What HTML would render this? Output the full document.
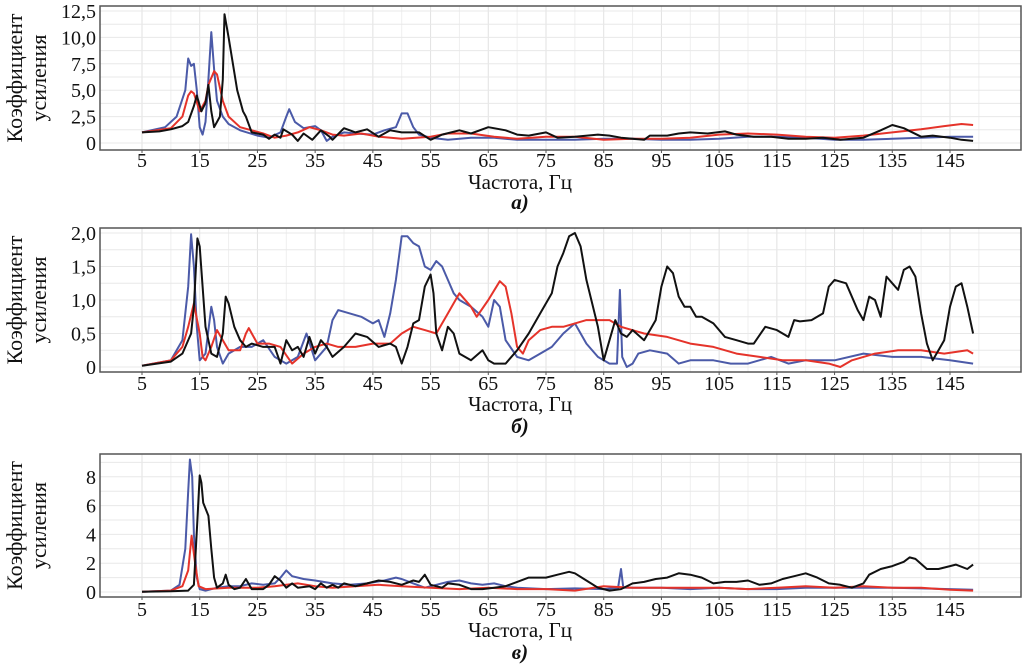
<!DOCTYPE html>
<html><head><meta charset="utf-8"><style>
body{margin:0;background:#fff;}
svg{display:block;font-family:"Liberation Serif",serif;}
</style></head><body>
<svg id="chart" width="1034" height="668" viewBox="0 0 1034 668" xmlns="http://www.w3.org/2000/svg"></svg>
<script>
const xTicks=[5,15,25,35,45,55,65,75,85,95,105,115,125,135,145];
const aTicks=[0,2.5,5,7.5,10,12.5];
const aTickLabels=["0","2,5","5,0","7,5","10,0","12,5"];
const bTicks=[0,0.5,1,1.5,2];
const bTickLabels=["0","0,5","1,0","1,5","2,0"];
const cTicks=[0,2,4,6,8];
const cTickLabels=["0","2","4","6","8"];

const aBlack=[[5,1],[8,1.1],[10,1.3],[12,1.6],[13,2],[14,3.5],[14.5,4.5],[15.3,3],[16,3.8],[16.5,5.5],[17,3],[17.5,1.5],[18.5,2.5],[19,6],[19.3,12.2],[20,10],[21.5,5],[22.5,3],[23,2.5],[24,1],[26,0.8],[27,0.4],[28,0.8],[29,0.5],[29.5,1.3],[31,0.8],[32,0.2],[33,0.9],[34.5,0.3],[36,1.2],[37.5,0.6],[38,0.3],[40,1.4],[42,1.0],[44,1.3],[46,0.6],[48,1.2],[50,1.0],[53,1.0],[55,0.3],[57,0.8],[60,1.2],[62,0.9],[65,1.5],[68,1.2],[70,0.8],[72,0.7],[75,1.0],[77,0.5],[80,0.6],[84,0.8],[86,0.7],[88,0.5],[90,0.4],[92,0.3],[93,0.7],[96,0.7],[98,0.9],[100,1.0],[103,0.9],[106,1.1],[108,0.8],[111,0.6],[114,0.6],[117,0.4],[120,0.4],[123,0.5],[126,0.3],[130,0.5],[133,1.2],[135,1.7],[137,1.4],[140,0.6],[142,0.7],[145,0.5],[147,0.3],[149,0.2]];
const aBlue=[[5,1],[9,1.5],[11,2.5],[12.5,5],[13,8],[13.5,7.3],[14,7.5],[14.5,5],[15,1.5],[15.5,0.8],[16,2],[16.5,6],[17,10.5],[17.5,7],[18,4],[19,2.5],[20,1.8],[22,1.2],[25,0.7],[27,0.5],[29,1.0],[30,2.5],[30.5,3.2],[31.5,2.0],[33,1.4],[35,1.6],[36,1.2],[37,0.2],[38,0.6],[40,1.0],[42,0.9],[45,0.8],[47,1.2],[49,1.5],[50,2.8],[51,2.8],[52,1.5],[53,0.8],[55,0.5],[58,0.3],[62,0.5],[66,0.5],[70,0.3],[75,0.3],[80,0.3],[85,0.4],[90,0.4],[95,0.3],[100,0.3],[105,0.4],[110,0.6],[115,0.6],[120,0.5],[125,0.3],[130,0.3],[135,0.4],[140,0.5],[145,0.6],[149,0.6]];
const aRed=[[5,1],[10,1.4],[12,2.5],[13,4.5],[13.5,4.9],[14,4.7],[15,3],[16,4],[16.5,5.5],[17.5,6.8],[18,6.5],[19,4],[20,2.5],[22,1.5],[24,1.2],[26,0.9],[28,0.5],[30,0.7],[32,1.0],[34,1.5],[36,1.2],[38,0.8],[40,0.7],[43,0.9],[46,0.6],[50,0.4],[55,0.6],[58,0.9],[62,0.9],[66,0.6],[70,0.4],[75,0.6],[80,0.6],[85,0.3],[90,0.4],[95,0.4],[100,0.5],[105,0.8],[110,0.9],[115,0.8],[120,0.6],[125,0.5],[130,0.7],[135,1.0],[140,1.3],[144,1.6],[147,1.8],[149,1.7]];

const bBlack=[[5,0.02],[10,0.08],[12,0.2],[13.5,0.5],[14,0.9],[14.6,1.92],[15,1.8],[15.5,1.2],[16,0.6],[17,0.2],[18,0.15],[19,0.5],[19.5,1.05],[20,0.95],[21,0.6],[22,0.4],[23,0.3],[24,0.35],[26,0.3],[28,0.3],[29,0.05],[30,0.4],[31,0.25],[32,0.3],[33,0.15],[34,0.45],[35,0.2],[36,0.4],[37,0.3],[38,0.15],[40,0.3],[42,0.5],[44,0.45],[46,0.3],[48,0.35],[49,0.3],[50,0.05],[51,0.3],[52,0.65],[53,0.7],[54,1.2],[55,1.38],[55.5,1.1],[56,0.5],[57,0.25],[58,0.6],[59,0.5],[60,0.2],[62,0.1],[64,0.25],[65,0.1],[66,0.05],[68,0.05],[70,0.25],[72,0.5],[74,0.8],[76,1.1],[77,1.5],[78,1.7],[79,1.95],[80,2.0],[81,1.8],[82,1.3],[84,0.6],[85,0.1],[86,0.4],[87,0.7],[88,0.5],[89,0.45],[90,0.55],[92,0.4],[94,0.7],[95,1.2],[96,1.5],[97,1.4],[98,1.05],[99,0.9],[100,0.9],[101,0.75],[102,0.75],[104,0.65],[106,0.45],[108,0.4],[110,0.35],[111,0.35],[113,0.6],[115,0.55],[117,0.45],[118,0.7],[119,0.68],[121,0.7],[123,0.8],[124,1.2],[125,1.3],[127,1.25],[129,0.85],[130,0.7],[131,1.05],[132,1.0],[133,0.75],[134,1.35],[135,1.25],[136,1.15],[137,1.45],[138,1.5],[139,1.35],[140,0.8],[141,0.35],[142,0.1],[143,0.25],[144,0.4],[145,0.9],[146,1.2],[147,1.25],[148,0.9],[149,0.5]];
const bBlue=[[5,0.02],[10,0.1],[12,0.4],[13,1.2],[13.5,1.98],[14,1.5],[14.5,0.6],[15,0.1],[16,0.2],[17,0.9],[17.5,0.7],[18,0.3],[19,0.05],[20,0.2],[22,0.3],[24,0.3],[26,0.4],[28,0.15],[30,0.05],[32,0.15],[33.5,0.5],[35,0.1],[37,0.3],[38,0.7],[39,0.85],[41,0.8],[43,0.75],[45,0.65],[46,0.7],[47,0.45],[48,0.8],[49,1.3],[50,1.95],[51,1.95],[52,1.85],[53,1.8],[54,1.5],[55,1.45],[56,1.58],[57,1.5],[58,1.3],[59,1.1],[60,1.0],[62,0.9],[64,0.75],[65,0.6],[66,1.0],[67,0.9],[68,0.4],[70,0.15],[72,0.1],[74,0.2],[76,0.3],[78,0.5],[80,0.65],[82,0.35],[84,0.15],[86,0.05],[87.3,0.05],[87.8,1.15],[88.2,0.15],[89,0.0],[90,0.05],[91,0.2],[93,0.25],[96,0.2],[98,0.05],[100,0.1],[104,0.1],[107,0.05],[110,0.05],[114,0.15],[117,0.05],[120,0.1],[125,0.1],[130,0.2],[135,0.15],[140,0.15],[145,0.1],[149,0.05]];
const bRed=[[5,0.02],[10,0.1],[12,0.3],[13,0.6],[14,0.95],[15,0.5],[15.5,0.15],[16,0.1],[17,0.3],[18,0.55],[19,0.4],[20,0.25],[22,0.25],[23,0.5],[23.5,0.58],[25,0.35],[27,0.35],[29,0.3],[31,0.05],[33,0.2],[35,0.3],[37,0.35],[39,0.3],[42,0.3],[45,0.35],[48,0.35],[50,0.5],[52,0.6],[54,0.55],[56,0.5],[58,0.8],[60,1.1],[62,0.9],[63,0.75],[65,1.0],[67,1.28],[68,1.2],[69,0.8],[70,0.3],[71,0.2],[72,0.4],[74,0.55],[76,0.6],[78,0.6],[80,0.65],[82,0.7],[84,0.7],[86,0.7],[88,0.6],[92,0.5],[96,0.45],[100,0.35],[104,0.3],[108,0.2],[112,0.15],[116,0.1],[120,0.1],[124,0.05],[126,0.0],[128,0.1],[132,0.2],[136,0.25],[140,0.25],[144,0.2],[148,0.25],[149,0.2]];

const cBlack=[[5,0.02],[10,0.05],[13,0.1],[14,0.5],[14.6,5],[15,8.1],[15.3,7.6],[15.6,6.2],[16,5.8],[16.5,5.3],[17,3],[17.5,1],[18,0.3],[19,0.6],[19.5,1.2],[20,0.5],[21,0.2],[22,0.3],[23,0.9],[24,0.2],[26,0.2],[27,0.5],[28,1.1],[29,0.8],[30,0.3],[31,0.6],[32,0.3],[34,0.4],[35,0.2],[36,0.6],[37,0.3],[38,0.5],[39,0.3],[40,0.6],[42,0.4],[44,0.6],[46,0.8],[48,0.7],[50,0.5],[52,0.8],[53,0.7],[54,1.2],[55,0.5],[57,0.3],[58,0.6],[60,0.5],[62,0.2],[64,0.2],[66,0.3],[68,0.4],[70,0.7],[72,1.0],[75,1.0],[77,1.2],[79,1.4],[80,1.3],[82,0.8],[84,0.3],[86,0.1],[88,0.2],[90,0.6],[92,0.7],[94,0.9],[96,1.0],[98,1.3],[100,1.2],[102,1.0],[104,0.6],[106,0.7],[108,0.7],[110,0.8],[112,0.5],[114,0.6],[116,0.9],[118,1.1],[120,1.3],[122,1.0],[124,0.6],[126,0.5],[128,0.3],[130,0.6],[131,1.2],[133,1.6],[135,1.8],[137,2.1],[138,2.4],[139,2.3],[141,1.6],[143,1.6],[145,1.8],[146,1.9],[148,1.6],[149,1.9]];
const cBlue=[[5,0.02],[10,0.1],[11.5,0.5],[12.5,3],[13,7],[13.3,9.2],[13.7,8],[14,4],[14.5,1],[15,0.2],[16,0.1],[18,0.3],[20,0.4],[22,0.4],[24,0.6],[26,0.5],[28,0.6],[29,1.0],[30,1.5],[31,1.1],[33,0.9],[35,0.8],[38,0.6],[41,0.5],[44,0.6],[47,0.8],[49,1.0],[50,0.9],[52,0.6],[54,0.3],[56,0.5],[58,0.7],[60,0.8],[62,0.6],[64,0.5],[66,0.6],[68,0.4],[70,0.3],[75,0.2],[80,0.25],[85,0.2],[87.5,0.3],[88,1.6],[88.4,0.3],[90,0.3],[95,0.3],[100,0.2],[105,0.3],[110,0.2],[115,0.2],[120,0.3],[125,0.3],[130,0.3],[135,0.3],[140,0.25],[145,0.2],[149,0.15]];
const cRed=[[5,0.02],[10,0.1],[12,0.4],[13,1.5],[13.6,3.9],[14.2,2],[14.8,0.4],[16,0.2],[20,0.3],[25,0.3],[28,0.4],[30,0.5],[32,0.6],[35,0.4],[38,0.3],[42,0.4],[46,0.5],[50,0.4],[55,0.3],[60,0.2],[65,0.3],[70,0.2],[75,0.2],[80,0.1],[85,0.4],[90,0.3],[95,0.3],[100,0.3],[105,0.3],[110,0.2],[115,0.3],[120,0.4],[125,0.3],[130,0.4],[135,0.3],[140,0.3],[145,0.15],[149,0.1]];

const NS="http://www.w3.org/2000/svg";
const svg=document.getElementById('chart');
const L=100,R=1021;
function xs(f){return 142+(f-5)*(808/140);}
function mk(tag,attrs,parent){const e=document.createElementNS(NS,tag);for(const k in attrs)e.setAttribute(k,attrs[k]);(parent||svg).appendChild(e);return e;}

const panels=[
 {id:'a',top:6,bottom:150,y0:143,k:10.56,ticks:aTicks,labels:aTickLabels,step:1.25,max:13,series:[aBlue,aRed,aBlack],lab:'а)',xl:167,tl:189,sl:209},
 {id:'b',top:228,bottom:372,y0:367,k:67,ticks:bTicks,labels:bTickLabels,step:0.25,max:2.1,series:[bBlue,bRed,bBlack],lab:'б)',xl:390,tl:411,sl:433},
 {id:'c',top:454,bottom:597,y0:592,k:14.4,ticks:cTicks,labels:cTickLabels,step:1,max:9.5,series:[cBlue,cRed,cBlack],lab:'в)',xl:616,tl:637,sl:659}
];
const colors=['#4b5aa8','#e5332a','#111111'];
const sNames=['blue','red','black'];

panels.forEach(p=>{
  const g=mk('g',{});
  
  
  const ys=v=>p.y0-v*p.k;
  for(let f=5;f<=150;f+=5){
    const l=mk('line',{x1:xs(f),x2:xs(f),y1:p.top,y2:p.bottom,stroke:(f-5)%10===0?'#e2e2e2':'#efefef','stroke-width':1},g);
    
    
  }
  for(let v=0;v<=p.max;v+=p.step){
    const l=mk('line',{x1:L,x2:R,y1:ys(v),y2:ys(v),stroke:'#e8e8e8','stroke-width':1},g);
    
    
  }
  p.series.forEach((s,i)=>{
    const d=s.map((pt,j)=>(j?'L':'M')+xs(pt[0]).toFixed(1)+','+ys(pt[1]).toFixed(1)).join('');
    const path=mk('path',{d:d,fill:'none',stroke:colors[i],'stroke-width':2,'stroke-linejoin':'round'},g);
    
    
  });
  const box=mk('rect',{x:L,y:p.top,width:R-L,height:p.bottom-p.top,fill:'none',stroke:'#555','stroke-width':1.5},g);
  
  
  p.ticks.forEach((v,i)=>{
    const t=mk('text',{x:96,y:ys(v)+7,'text-anchor':'end','font-size':20,fill:'#111'},g);
    t.textContent=p.labels[i];
    
    
  });
  xTicks.forEach(f=>{
    const tk=mk('line',{x1:xs(f),x2:xs(f),y1:p.bottom,y2:p.bottom+3,stroke:'#555'},g);
    
    
    const t=mk('text',{x:xs(f),y:p.xl,'text-anchor':'middle','font-size':20,fill:'#111'},g);
    t.textContent=String(f);
    
    
  });
  const xt=mk('text',{x:520,y:p.tl,'text-anchor':'middle','font-size':21,fill:'#111'},g);
  xt.textContent='Частота, Гц';
  
  
  const st=mk('text',{x:520,y:p.sl,'text-anchor':'middle','font-size':21,'font-style':'italic','font-weight':'bold',fill:'#111'},g);
  st.textContent=p.lab;
  
  
  const cy=(p.top+p.bottom)/2;
  const yt=mk('text',{x:0,y:0,'text-anchor':'middle','font-size':22,fill:'#111',transform:'translate(22,'+cy+') rotate(-90)'},g);
  yt.textContent='Коэффициент';
  
  
  const yt2=mk('text',{x:0,y:0,'text-anchor':'middle','font-size':22,fill:'#111',transform:'translate(46,'+cy+') rotate(-90)'},g);
  yt2.textContent='усиления';
  
  
});
</script>
</body></html>
